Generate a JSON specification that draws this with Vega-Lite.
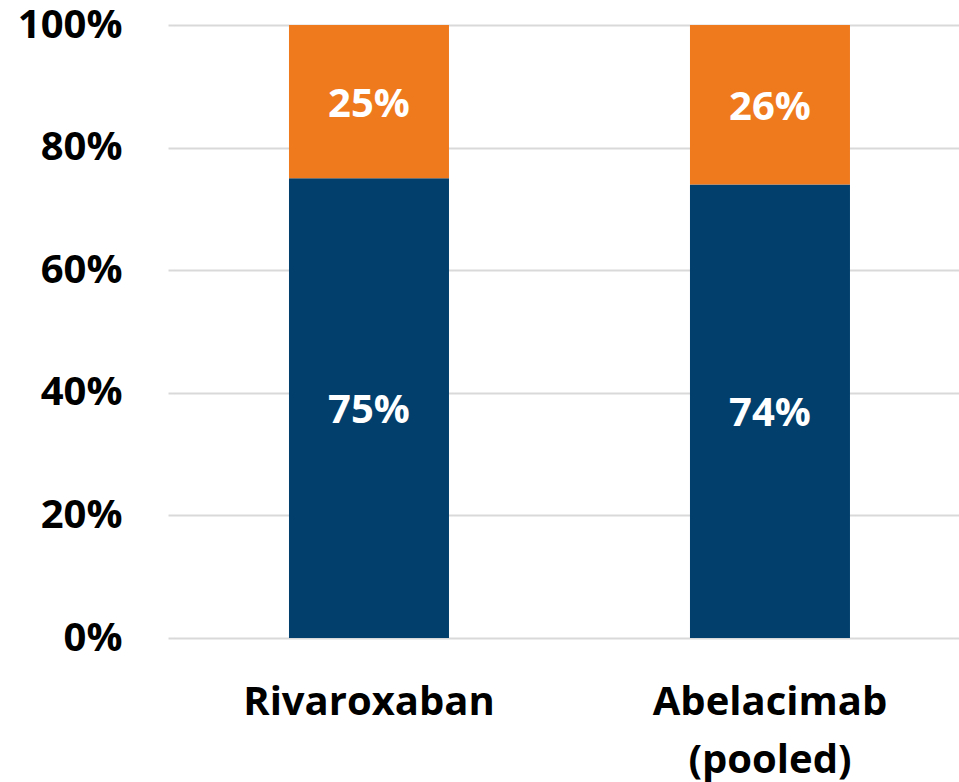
{
  "$schema": "https://vega.github.io/schema/vega-lite/v6.json",
  "width": 791,
  "height": 613,
  "autosize": {"type": "none"},
  "padding": {"left": 168, "top": 25, "right": 0, "bottom": 144},
  "background": "white",
  "config": {"view": {"stroke": null}, "font": "Open Sans"},
  "data": {
    "values": [
      {"drug": "Rivaroxaban", "segment": "A", "share": 0.75},
      {"drug": "Rivaroxaban", "segment": "B", "share": 0.25},
      {"drug": "Abelacimab (pooled)", "segment": "A", "share": 0.74},
      {"drug": "Abelacimab (pooled)", "segment": "B", "share": 0.26}
    ]
  },
  "transform": [
    {"stack": "share", "groupby": ["drug"], "sort": [{"field": "segment"}], "as": ["lo", "hi"]},
    {"calculate": "(datum.lo + datum.hi) / 2", "as": "mid"}
  ],
  "encoding": {
    "x": {
      "field": "drug",
      "type": "nominal",
      "sort": null,
      "scale": {"paddingInner": 0.601, "paddingOuter": 0.2868, "align": 0.526},
      "axis": {
        "title": null,
        "domain": false,
        "ticks": false,
        "labelAngle": 0,
        "labelFont": "Open Sans",
        "labelFontWeight": "bold",
        "labelFontSize": 40,
        "labelColor": "#000000",
        "labelPadding": 44,
        "labelLineHeight": 58,
        "labelBaseline": "top",
        "labelLimit": 0,
        "labelOverlap": false,
        "labelExpr": "datum.label == 'Abelacimab (pooled)' ? ['Abelacimab', '(pooled)'] : datum.label"
      }
    }
  },
  "layer": [
    {
      "mark": {"type": "bar"},
      "encoding": {
        "y": {
          "field": "lo",
          "type": "quantitative",
          "scale": {"domain": [0, 1], "nice": false},
          "axis": {
            "title": null,
            "values": [0, 0.2, 0.4, 0.6, 0.8, 1],
            "format": ".0%",
            "domain": false,
            "ticks": false,
            "grid": true,
            "gridColor": "#D9D9D9",
            "gridWidth": 2,
            "labelFont": "Open Sans",
            "labelFontWeight": "bold",
            "labelFontSize": 40,
            "labelColor": "#000000",
            "labelPadding": 46,
            "labelLimit": 0
          }
        },
        "y2": {"field": "hi"},
        "color": {
          "field": "segment",
          "type": "nominal",
          "scale": {"domain": ["A", "B"], "range": ["#023F6C", "#EF7A1E"]},
          "legend": null
        }
      }
    },
    {
      "mark": {"type": "text", "color": "#FFFFFF", "font": "Open Sans", "fontWeight": "bold", "fontSize": 40, "baseline": "middle", "dy": 3},
      "encoding": {
        "y": {"field": "mid", "type": "quantitative"},
        "text": {"field": "share", "type": "quantitative", "format": ".0%"}
      }
    }
  ]
}
